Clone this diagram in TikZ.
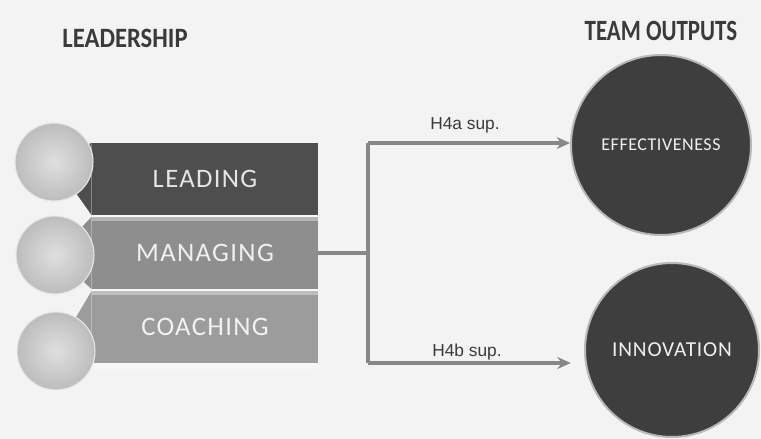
\documentclass[tikz,border=0pt]{standalone}
\usepackage{fontspec}
\setmainfont{Carlito}
\newfontfamily\labelfont{Liberation Sans}
\usepackage{tikz}
\usetikzlibrary{arrows.meta}
\usetikzlibrary{shapes}

\definecolor{bgcol}{RGB}{243,243,243}
\definecolor{headcol}{RGB}{58,58,58}
\definecolor{barA}{RGB}{78,78,78}
\definecolor{barB}{RGB}{142,142,142}
\definecolor{barC}{RGB}{156,156,156}
\definecolor{outcol}{RGB}{62,62,62}
\definecolor{linecol}{RGB}{135,135,135}

\tikzset{
  barbox/.style={rectangle, minimum width=169.5pt, minimum height=54pt, inner sep=0pt,
    font=\fontsize{20}{24}\selectfont\addfontfeature{LetterSpace=5}},
  knob/.style={circle, minimum size=58.5pt, inner sep=0pt, shading=radial,
    inner color=gray!25, outer color=gray!52, draw=gray!18, line width=0.8pt},
  outcircle/.style={circle, inner sep=0pt, fill=outcol, draw=gray!55, line width=1.5pt, text=gray!12},
  linkline/.style={draw=linecol, line width=2.3pt},
  headline/.style={font=\bfseries\fontsize{21}{24}\selectfont, text=headcol},
  hyplabel/.style={font=\labelfont\fontsize{13}{15}\selectfont, text=headcol}
}

\begin{document}
\begin{tikzpicture}[x=0.75pt,y=0.75pt,yscale=-1,xscale=1]
%background, sets the size of the picture
\path[use as bounding box, fill=bgcol] (0,0) rectangle (761,439);

%Titles
\node[headline] (leadtitle) at (125,38) {\scalebox{0.88}[1]{LEADERSHIP}};
\node[headline] (teamtitle) at (661,31) {\scalebox{0.82}[1.05]{TEAM OUTPUTS}};

%Bars
\node[barbox, fill=barA, text=gray!20] (leading) at (205,179) {LEADING};
\node[barbox, fill=barB, text=gray!12] (managing) at (205,253) {MANAGING};
\node[barbox, fill=barC, text=gray!10] (coaching) at (205,327) {COACHING};

%bar ends behind the circles
\fill[barA] (54,162) -- (leading.north west) -- (leading.south west) -- cycle;
\fill[barB] (55,255) -- (managing.north west) -- (managing.south west) -- cycle;
\fill[barC] (56,351) -- (coaching.north west) -- (coaching.south west) -- cycle;

%bevel strips
\fill[white, opacity=0.35] (leading.south west) rectangle ([yshift=4.5pt]leading.south east);
\fill[white, opacity=0.35] (managing.south west) rectangle ([yshift=4.5pt]managing.south east);
\fill[white, opacity=0.35] (coaching.south west) rectangle ([yshift=4.5pt]coaching.south east);

%Circles
\node[knob] (knobA) at (54,162) {};
\node[knob] (knobB) at (55,255) {};
\node[knob] (knobC) at (56,351) {};

%Outputs
\node[outcircle, minimum size=135pt, font=\fontsize{13.5}{16}\selectfont\addfontfeature{LetterSpace=3}] (effect) at (661,145) {EFFECTIVENESS};
\node[outcircle, minimum size=130.5pt, font=\fontsize{16}{19}\selectfont\addfontfeature{LetterSpace=4}] (innov) at (672,350) {INNOVATION};

%Connectors
\coordinate (split) at (368,253);
\coordinate (upper) at (368,143);
\coordinate (lower) at (368,363);
\draw[linkline] (managing.east) -- (split);
\draw[linkline] (upper) -- (lower);
\draw[linkline, -{Stealth[length=10pt,width=9pt]}] (upper) -- (upper -| effect.west);
\draw[linkline, -{Stealth[length=10pt,width=9pt]}, shorten >=10pt] (lower) -- (lower -| innov.west);

%Labels
\node[hyplabel] (labA) at (465,125) {H4a sup.};
\node[hyplabel] (labB) at (467,352) {H4b sup.};

\end{tikzpicture}
\end{document}
